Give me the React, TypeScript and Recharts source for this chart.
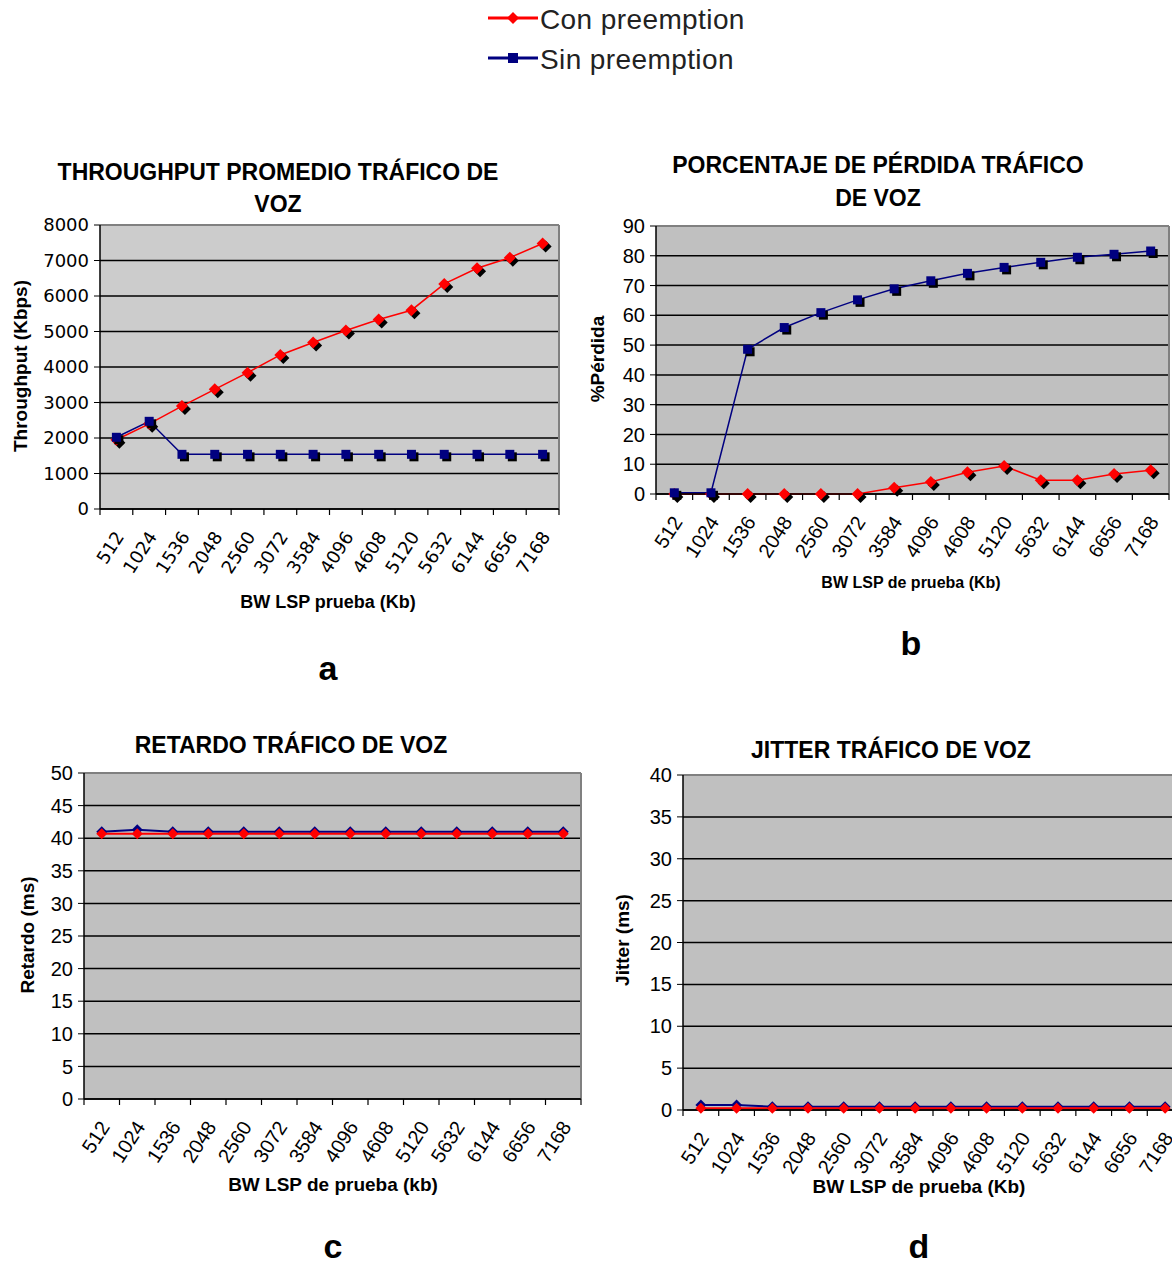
import React from 'react';
import { LineChart, Line, XAxis, YAxis, CartesianGrid } from 'recharts';

// BW del LSP de prueba (Kb)
const bwLabels = ['512', '1024', '1536', '2048', '2560', '3072', '3584', '4096', '4608', '5120', '5632', '6144', '6656', '7168'];

const SERIE_CON = 'Con preemption';
const SERIE_SIN = 'Sin preemption';

// a) throughput promedio (Kbps)
const throughputCon = [1950, 2400, 2900, 3370, 3840, 4340, 4690, 5030, 5340, 5600, 6340, 6780, 7080, 7480];
const throughputSin = [2020, 2470, 1540, 1540, 1540, 1540, 1540, 1540, 1540, 1540, 1540, 1540, 1540, 1540];
const throughputTicks = [0, 1000, 2000, 3000, 4000, 5000, 6000, 7000, 8000];

// b) porcentaje de pérdida
const perdidaCon = [0, 0, 0, 0, 0, 0, 2.1, 4.0, 7.3, 9.4, 4.6, 4.6, 6.7, 8.0];
const perdidaSin = [0.4, 0.4, 48.6, 55.9, 60.9, 65.2, 68.9, 71.6, 74.1, 76.1, 77.8, 79.5, 80.5, 81.6];
const perdidaTicks = [0, 10, 20, 30, 40, 50, 60, 70, 80, 90];

// c) retardo (ms)
const retardoCon = [40.7, 40.7, 40.7, 40.7, 40.7, 40.7, 40.7, 40.7, 40.7, 40.7, 40.7, 40.7, 40.7, 40.7];
const retardoSin = [41.0, 41.3, 41.0, 41.0, 41.0, 41.0, 41.0, 41.0, 41.0, 41.0, 41.0, 41.0, 41.0, 41.0];
const retardoTicks = [0, 5, 10, 15, 20, 25, 30, 35, 40, 45, 50];

// d) jitter (ms)
const jitterCon = [0.2, 0.2, 0.2, 0.2, 0.2, 0.2, 0.2, 0.2, 0.2, 0.2, 0.2, 0.2, 0.2, 0.2];
const jitterSin = [0.6, 0.6, 0.4, 0.4, 0.4, 0.4, 0.4, 0.4, 0.4, 0.4, 0.4, 0.4, 0.4, 0.4];
const jitterTicks = [0, 5, 10, 15, 20, 25, 30, 35, 40];

const RED = '#FF0000';
const NAVY = '#000080';
const ARIAL = "'Liberation Sans', Arial, sans-serif";
const VERDANA = "'DejaVu Sans', Verdana, sans-serif";

const rowsOf = (con: number[], sin: number[]) =>
  bwLabels.map((bw, i) => ({ bw, con: con[i], sin: sin[i] }));

const diamondPts = (cx: number, cy: number, r: number) =>
  `${cx},${cy - r} ${cx + r},${cy} ${cx},${cy + r} ${cx - r},${cy}`;

function ShadowDiamond(props: any) {
  const { cx, cy } = props;
  if (cx == null || cy == null) return null;
  return (
    <g>
      <polygon points={diamondPts(cx + 3, cy + 3, 6)} fill="#000" />
      <polygon points={diamondPts(cx, cy, 6)} fill={RED} />
    </g>
  );
}

function ShadowSquare(props: any) {
  const { cx, cy } = props;
  if (cx == null || cy == null) return null;
  return (
    <g>
      <rect x={cx - 2} y={cy - 2} width={9} height={9} fill="#000" />
      <rect x={cx - 4.5} y={cy - 4.5} width={9} height={9} fill={NAVY} />
    </g>
  );
}

const flatDiamond = (color: string) => (props: any) => {
  const { cx, cy } = props;
  if (cx == null || cy == null) return null;
  return <polygon points={diamondPts(cx, cy, 5.5)} fill={color} />;
};

// category ticks sit between categories, labels rotated
function BwTick(props: any) {
  const { x, y, payload, step, fontSize, fontFamily } = props;
  const axisY = y - 8;
  const isLast = payload.value === bwLabels[bwLabels.length - 1];
  return (
    <g>
      <line x1={x - step / 2} x2={x - step / 2} y1={axisY} y2={axisY + 6} stroke="#000" strokeWidth={1.2} />
      {isLast && <line x1={x + step / 2} x2={x + step / 2} y1={axisY} y2={axisY + 6} stroke="#000" strokeWidth={1.2} />}
      <text
        transform={`translate(${x + 3},${y + 16}) rotate(-57)`}
        textAnchor="end"
        dominantBaseline="central"
        fontSize={fontSize}
        fontFamily={fontFamily}
        fill="#000"
      >
        {payload.value}
      </text>
    </g>
  );
}

type PanelProps = {
  left: number;
  top: number;
  width: number;
  height: number;
  margin: { top: number; right: number; left: number; bottom: number };
  yWidth: number;
  xHeight: number;
  yTicks: number[];
  bg: string;
  rows: any[];
  shadow: boolean;
  tickFont: string;
  tickSize: number;
};

function Panel(p: PanelProps) {
  const plotW = p.width - p.margin.left - p.margin.right - p.yWidth;
  const step = plotW / bwLabels.length;
  const yMax = p.yTicks[p.yTicks.length - 1];
  const conLine = (
    <Line
      key="con"
      dataKey="con"
      name={SERIE_CON}
      stroke={RED}
      strokeWidth={p.shadow ? 1.5 : 2}
      dot={p.shadow ? ShadowDiamond : flatDiamond(RED)}
      activeDot={false}
      isAnimationActive={false}
    />
  );
  const sinLine = (
    <Line
      key="sin"
      dataKey="sin"
      name={SERIE_SIN}
      stroke={NAVY}
      strokeWidth={p.shadow ? 1.5 : 2}
      dot={p.shadow ? ShadowSquare : flatDiamond(NAVY)}
      activeDot={false}
      isAnimationActive={false}
    />
  );
  return (
    <div style={{ position: 'absolute', left: p.left, top: p.top }}>
      <LineChart width={p.width} height={p.height} data={p.rows} margin={p.margin}>
        <CartesianGrid vertical={false} fill={p.bg} fillOpacity={1} stroke="#000" strokeWidth={1.5} />
        <CartesianGrid
          horizontalPoints={[p.margin.top]}
          verticalPoints={[p.width - p.margin.right]}
          stroke="#808080"
          strokeWidth={2}
          fill="none"
        />
        <XAxis
          dataKey="bw"
          interval={0}
          height={p.xHeight}
          padding={{ left: step / 2, right: step / 2 }}
          tickLine={false}
          tickSize={6}
          tickMargin={2}
          axisLine={{ stroke: '#000', strokeWidth: 1.5 }}
          tick={(tp: any) => <BwTick {...tp} step={step} fontSize={p.tickSize} fontFamily={p.tickFont} />}
        />
        <YAxis
          domain={[0, yMax]}
          ticks={p.yTicks}
          interval={0}
          width={p.yWidth}
          tickSize={6}
          tickMargin={5}
          tickLine={{ stroke: '#000' }}
          axisLine={{ stroke: '#000', strokeWidth: 1.5 }}
          tick={{ fill: '#000', fontSize: p.tickSize, fontFamily: p.tickFont }}
        />
        {p.shadow ? [conLine, sinLine] : [sinLine, conLine]}
      </LineChart>
    </div>
  );
}

function Caption({ x, y, size, bold = true, rotate = 0, children }: any) {
  return (
    <div
      style={{
        position: 'absolute',
        left: x,
        top: y,
        transform: `translate(-50%, -50%) rotate(${rotate}deg)`,
        whiteSpace: 'nowrap',
        fontSize: size,
        fontWeight: bold ? 'bold' : 'normal',
        lineHeight: 1,
        color: '#000',
      }}
    >
      {children}
    </div>
  );
}

function Legend() {
  return (
    <svg style={{ position: 'absolute', left: 480, top: 0 }} width={300} height={80}>
      <line x1={8} x2={58} y1={18} y2={18} stroke={RED} strokeWidth={3} />
      <polygon points={diamondPts(33, 18, 6)} fill={RED} />
      <text x={60} y={19} dominantBaseline="central" fontSize={28} fill="#222" letterSpacing={0.4}>{SERIE_CON}</text>
      <line x1={8} x2={58} y1={58} y2={58} stroke={NAVY} strokeWidth={3} />
      <rect x={28} y={53} width={10} height={10} fill={NAVY} />
      <text x={60} y={59} dominantBaseline="central" fontSize={28} fill="#222" letterSpacing={0.4}>{SERIE_SIN}</text>
    </svg>
  );
}

export default function App() {
  return (
    <div
      style={{
        position: 'absolute',
        left: 0,
        top: 0,
        width: 1172,
        height: 1266,
        overflow: 'hidden',
        background: '#fff',
        fontFamily: ARIAL,
      }}
    >
      <Legend />

      {/* a: throughput */}
      <Caption x={278} y={172} size={23}>THROUGHPUT PROMEDIO TRÁFICO DE</Caption>
      <Caption x={278} y={204} size={23}>VOZ</Caption>
      <Panel
        left={0}
        top={150}
        width={600}
        height={480}
        margin={{ top: 75, right: 41, left: 20, bottom: 0 }}
        yWidth={80}
        xHeight={121}
        yTicks={throughputTicks}
        bg="#CCCCCC"
        rows={rowsOf(throughputCon, throughputSin)}
        shadow
        tickFont={VERDANA}
        tickSize={18}
      />
      <Caption x={20} y={366} size={19} rotate={-90}>Throughput (Kbps)</Caption>
      <Caption x={328} y={602} size={18}>BW LSP prueba (Kb)</Caption>
      <Caption x={328} y={668} size={34}>a</Caption>

      {/* b: pérdida */}
      <Caption x={878} y={165} size={23}>PORCENTAJE DE PÉRDIDA TRÁFICO</Caption>
      <Caption x={878} y={198} size={23}>DE VOZ</Caption>
      <Panel
        left={580}
        top={150}
        width={592}
        height={480}
        margin={{ top: 76, right: 3, left: 16, bottom: 0 }}
        yWidth={60}
        xHeight={136}
        yTicks={perdidaTicks}
        bg="#C0C0C0"
        rows={rowsOf(perdidaCon, perdidaSin)}
        shadow
        tickFont={ARIAL}
        tickSize={20}
      />
      <Caption x={597} y={359} size={19} rotate={-90}>%Pérdida</Caption>
      <Caption x={911} y={583} size={16}>BW LSP de prueba (Kb)</Caption>
      <Caption x={911} y={643} size={34}>b</Caption>

      {/* c: retardo */}
      <Caption x={291} y={745} size={23}>RETARDO TRÁFICO DE VOZ</Caption>
      <Panel
        left={0}
        top={700}
        width={600}
        height={540}
        margin={{ top: 73, right: 19, left: 14, bottom: 0 }}
        yWidth={70}
        xHeight={141}
        yTicks={retardoTicks}
        bg="#C0C0C0"
        rows={rowsOf(retardoCon, retardoSin)}
        shadow={false}
        tickFont={ARIAL}
        tickSize={20}
      />
      <Caption x={27} y={935} size={19} rotate={-90}>Retardo (ms)</Caption>
      <Caption x={333} y={1184} size={19}>BW LSP de prueba (kb)</Caption>
      <Caption x={333} y={1246} size={34}>c</Caption>

      {/* d: jitter */}
      <Caption x={891} y={750} size={23}>JITTER TRÁFICO DE VOZ</Caption>
      <Panel
        left={590}
        top={700}
        width={600}
        height={540}
        margin={{ top: 75, right: 7, left: 23, bottom: 0 }}
        yWidth={70}
        xHeight={130}
        yTicks={jitterTicks}
        bg="#C0C0C0"
        rows={rowsOf(jitterCon, jitterSin)}
        shadow={false}
        tickFont={ARIAL}
        tickSize={20}
      />
      <Caption x={622} y={940} size={19} rotate={-90}>Jitter (ms)</Caption>
      <Caption x={919} y={1186} size={19}>BW LSP de prueba (Kb)</Caption>
      <Caption x={919} y={1246} size={34}>d</Caption>
    </div>
  );
}
